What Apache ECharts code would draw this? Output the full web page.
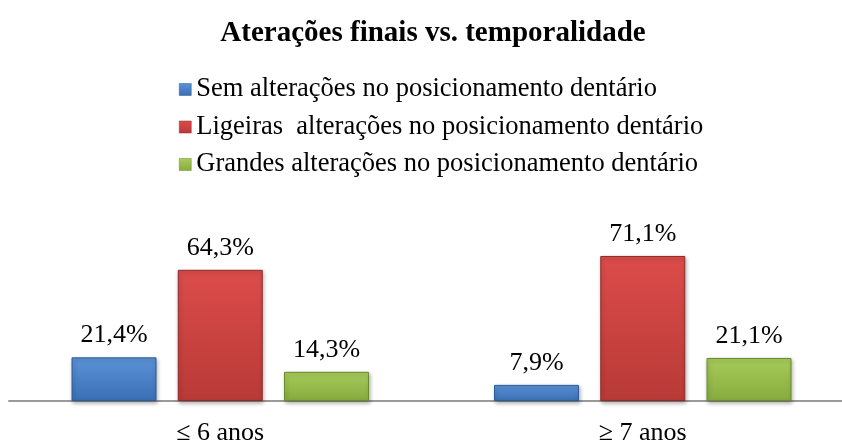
<!DOCTYPE html>
<html>
<head>
<meta charset="utf-8">
<script src="https://cdn.jsdelivr.net/npm/echarts@6/dist/echarts.min.js"></script>
<style>html,body{margin:0;padding:0;background:#fff}#c{width:842px;height:446px}</style>
</head>
<body>
<div id="c"></div>
<script>
var categories = ['\u2264 6 anos', '\u2265 7 anos'];
var seriesNames = ['Sem altera\u00e7\u00f5es no posicionamento dent\u00e1rio', 'Ligeiras  altera\u00e7\u00f5es no posicionamento dent\u00e1rio', 'Grandes altera\u00e7\u00f5es no posicionamento dent\u00e1rio'];
var semValues = [21.4, 7.9];
var ligeirasValues = [64.3, 71.1];
var grandesValues = [14.3, 21.1];
var titleText = 'Atera\u00e7\u00f5es finais vs. temporalidade';

var font = '"Liberation Serif", "Times New Roman", serif';
function grad(top, bottom) {
  return new echarts.graphic.LinearGradient(0, 0, 0, 1, [{offset: 0, color: top}, {offset: 1, color: bottom}]);
}
var colors = [
  {top: '#5b92d8', bottom: '#3a6fb5', border: '#2c5a94'},
  {top: '#dc4c4a', bottom: '#b83a37', border: '#8e2a28'},
  {top: '#a8cc5a', bottom: '#86ab3e', border: '#6a8a2e'}
];
var dataSets = [semValues, ligeirasValues, grandesValues];
var chart = echarts.init(document.getElementById('c'));
var series = dataSets.map(function (d, i) {
  return {
    name: seriesNames[i],
    type: 'bar',
    data: d,
    barWidth: 85,
    barGap: '25%',
    itemStyle: {
      color: grad(colors[i].top, colors[i].bottom),
      borderColor: colors[i].border,
      borderWidth: 1,
      shadowColor: 'rgba(0,0,0,0.3)',
      shadowBlur: 4,
      shadowOffsetX: 1,
      shadowOffsetY: 2
    },
    label: {
      show: true,
      position: 'top',
      distance: 9,
      fontFamily: font,
      fontSize: 26,
      color: '#000',
      formatter: function (p) { return p.value.toFixed(1).replace('.', ',') + '%'; }
    }
  };
});
chart.setOption({
  animation: false,
  title: {
    text: titleText,
    left: 428,
    textAlign: 'center',
    top: 14,
    textStyle: {fontFamily: font, fontSize: 29, fontWeight: 'bold', color: '#000'}
  },
  legend: {
    orient: 'vertical',
    left: 179,
    top: 76,
    padding: 0,
    itemWidth: 12,
    itemHeight: 12,
    itemGap: 10.5,
    icon: 'rect',
    textStyle: {fontFamily: font, fontSize: 26.5, color: '#000', lineHeight: 26},
    data: seriesNames.map(function (n, i) {
      return {name: n, itemStyle: {color: grad(colors[i].top, colors[i].bottom), borderColor: colors[i].border, borderWidth: 0.5}};
    })
  },
  grid: {left: 9, width: 845, top: 197, height: 204, outerBoundsMode: 'none', containLabel: false},
  xAxis: {
    type: 'category',
    data: categories,
    axisLine: {lineStyle: {color: '#9a9a9a', width: 2}},
    axisTick: {show: false},
    axisLabel: {fontFamily: font, fontSize: 26, color: '#000', margin: 19}
  },
  yAxis: {
    type: 'value',
    min: 0,
    max: 100,
    show: false,
    splitLine: {show: false}
  },
  series: series
});
</script>
</body>
</html>
